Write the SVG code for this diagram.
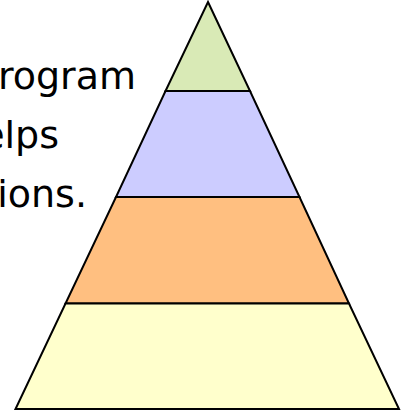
<svg xmlns="http://www.w3.org/2000/svg" width="406" height="414" viewBox="0 0 406 414">
<style>
.t{font-family:"DejaVu Sans","Liberation Sans",sans-serif;font-size:38px;fill:#000;text-anchor:end}
.b{stroke:#000;stroke-width:2;stroke-linejoin:miter}
</style>
<rect width="406" height="414" fill="#fff"/>
<g id="text">
<text class="t" x="136" y="89">rogram</text>
<text class="t" x="59" y="148">elps</text>
<text class="t" x="87" y="207">ions.</text>
</g>
<g id="pyramid">
<g id="level1"><polygon class="b" fill="#D9EAB6" points="208,2 250,91 165.5,91"/></g>
<g id="level2"><polygon class="b" fill="#CCCCFF" points="165.5,91 250,91 299.5,197 116,197"/></g>
<g id="level3"><polygon class="b" fill="#FFBF80" points="116,197 299.5,197 349,303.5 65.5,303.5"/></g>
<g id="level4"><polygon class="b" fill="#FFFFCC" points="65.5,303.5 349,303.5 399,409 15.5,409"/></g>
</g>
</svg>
